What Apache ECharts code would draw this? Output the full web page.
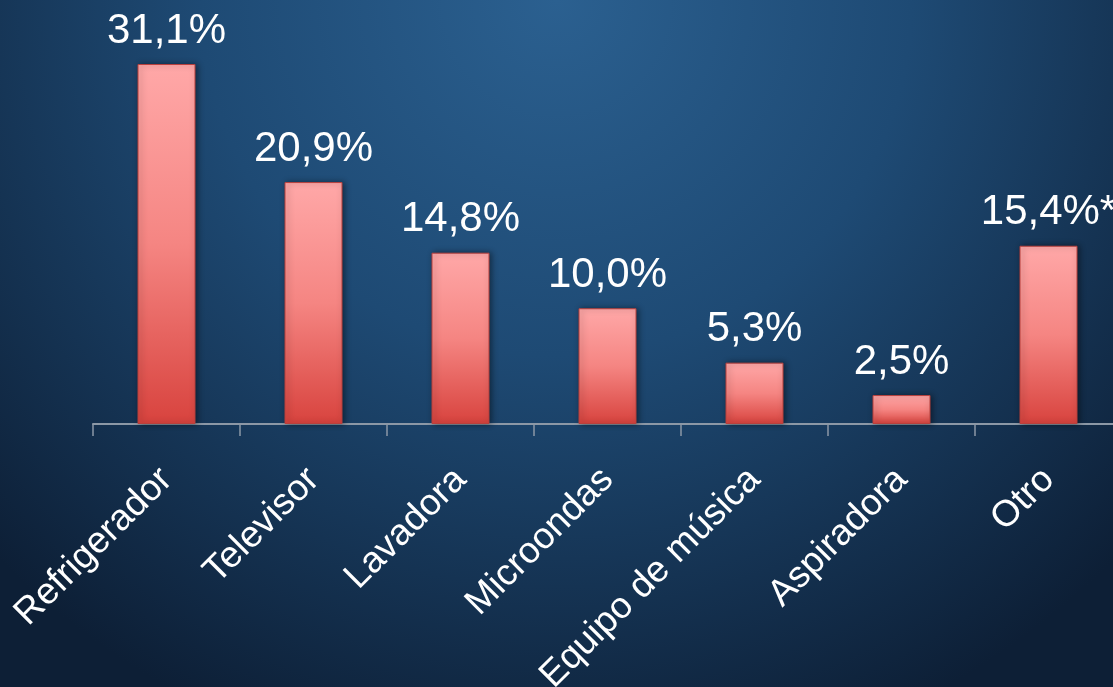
<!DOCTYPE html>
<html>
<head>
<meta charset="utf-8">
<script src="https://cdn.jsdelivr.net/npm/echarts@6/dist/echarts.min.js"></script>
<style>
html,body{margin:0;padding:0;width:1113px;height:687px;overflow:hidden;background:#163556;}
#c{width:1113px;height:687px;}
</style>
</head>
<body>
<div id="c"></div>
<script>
const categories = ['Refrigerador','Televisor','Lavadora','Microondas','Equipo de música','Aspiradora','Otro'];
const values = [31.1, 20.9, 14.8, 10.0, 5.3, 2.5, 15.4];
const labelNotes = ['', '', '', '', '', '', '*'];

const chart = echarts.init(document.getElementById('c'));
const font = '"Liberation Sans", Arial, sans-serif';
chart.setOption({
  backgroundColor: {
    type: 'radial', x: 0.5, y: 0.0, r: 1.15,
    colorStops: [
      {offset: 0, color: '#2b6090'},
      {offset: 0.45, color: '#1e4a74'},
      {offset: 1, color: '#0d1f36'}
    ]
  },
  animation: false,
  grid: {left: 93, width: 1029, top: 64, bottom: 263, containLabel: false, outerBoundsMode: 'none'},
  xAxis: {
    type: 'category',
    data: categories,
    axisLine: {lineStyle: {color: '#8c98a6', width: 2}},
    axisTick: {show: true, length: 12, lineStyle: {color: '#8c98a6', width: 1.5}},
    axisLabel: {
      rotate: 45, margin: 50, interval: 0,
      color: '#ffffff', fontSize: 37, fontFamily: font
    }
  },
  yAxis: {type: 'value', min: 0, max: 31.1, show: false, splitLine: {show: false}},
  series: [{
    type: 'bar',
    data: values,
    barWidth: 58,
    itemStyle: {
      color: {
        type: 'linear', x: 0, y: 0, x2: 0, y2: 1,
        colorStops: [
          {offset: 0, color: '#ffa8a8'},
          {offset: 0.5, color: '#f58582'},
          {offset: 1, color: '#d8433e'}
        ]
      },
      borderColor: '#b8403d',
      borderWidth: 1,
      shadowColor: 'rgba(0,0,0,0.45)',
      shadowBlur: 6,
      shadowOffsetX: 2,
      shadowOffsetY: 0
    },
    label: {
      show: true,
      position: 'top',
      distance: 12,
      color: '#ffffff',
      fontSize: 42,
      fontFamily: font,
      formatter: p => p.value.toFixed(1).replace('.', ',') + '%' + labelNotes[p.dataIndex]
    }
  }]
});
</script>
</body>
</html>
